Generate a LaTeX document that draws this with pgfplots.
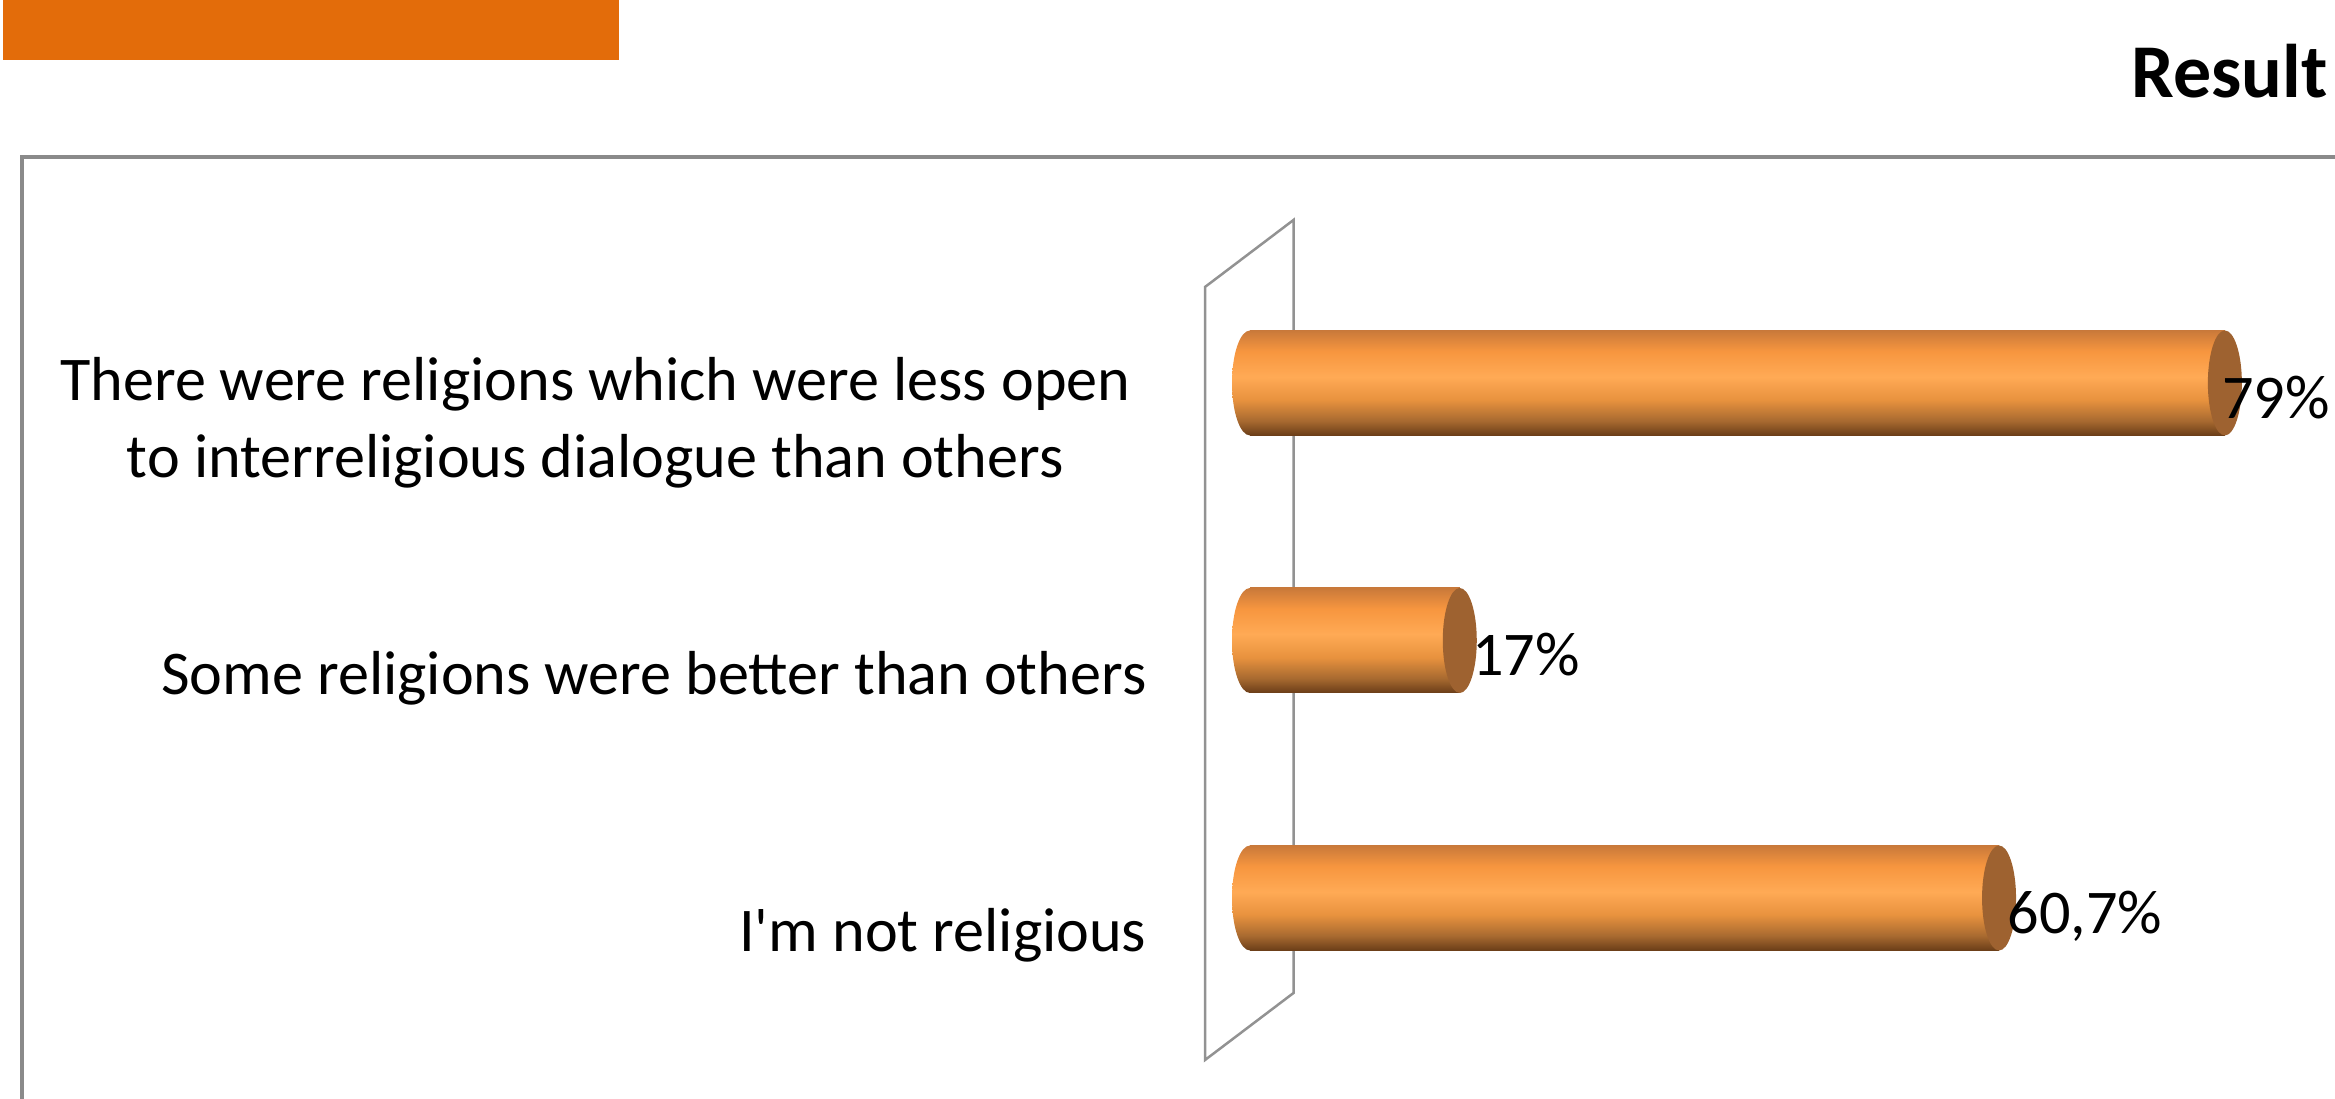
\documentclass[border=0pt]{standalone}
\usepackage{fontspec}
\setmainfont{Carlito}[Ligatures=TeXOff]
\usepackage{pgfplots}
\pgfplotsset{compat=1.18}
\definecolor{hdr}{HTML}{E36C0A}
\definecolor{frm}{HTML}{8A8A8A}
\definecolor{wallc}{HTML}{929292}
\definecolor{capc}{HTML}{9E6230}
\definecolor{cb}{HTML}{6A3D18}
\definecolor{cb2}{HTML}{A86A30}
\definecolor{cm1}{HTML}{E8923E}
\definecolor{cm}{HTML}{FFAA55}
\definecolor{ct2}{HTML}{F7963F}
\definecolor{ct}{HTML}{C9793A}
\pgfdeclareverticalshading{cyl}{100bp}{color(0bp)=(cb); color(25bp)=(cb); color(32bp)=(cb2); color(42bp)=(cm1); color(53bp)=(cm); color(65bp)=(ct2); color(75bp)=(ct); color(100bp)=(ct)}
\pgfdeclareplotmark{lcap}{\path[draw=none, shading=cyl] (0pt,0pt) ellipse [x radius=5.4bp, y radius=15.75bp];}
\pgfdeclareplotmark{rcap}{\path[draw=none, fill=capc] (0pt,0pt) ellipse [x radius=5.1bp, y radius=15.75bp];}
\begin{document}
\begin{tikzpicture}[x=0.3bp,y=0.3bp]
\useasboundingbox (0,0) rectangle (2335,1099);
\clip (0,0) rectangle (2335,1099);
\fill[hdr] (3,1039) rectangle (619,1100);
\node[anchor=base east, inner sep=0pt, font=\bfseries\fontsize{22.8bp}{27bp}\selectfont] at (2328,1001) {Result};
\draw[frm, line width=1.2bp] (22,-20) -- (22,942) -- (2400,942);
\draw[wallc, line width=0.75bp] (1205,39) -- (1205,812) -- (1293.5,879) -- (1293.5,106) -- cycle;
\coordinate (O) at (1250,72.25);
\begin{axis}[
  at={(O)}, anchor=south west,
  x=3.702bp, y=77.25bp,
  xmin=0, xmax=90, ymin=-0.5, ymax=2.5,
  scale only axis, clip=false,
  axis line style={draw=none},
  major tick length=0pt,
  xtick=\empty,
  ytick={0,1},
  yticklabels={I'm not religious, Some religions were better than others},
  yticklabel style={anchor=base east, inner sep=0pt, xshift=-30.9bp, yshift=-16.2bp, font=\fontsize{18.65bp}{23.2bp}\selectfont},
  extra y ticks={2},
  extra y tick labels={{There were religions which were less open\\to interreligious dialogue than others}},
  extra y tick style={yticklabel style={align=center, xshift=-4.8bp, yshift=-12.25bp}},
  every node near coord/.style={anchor=base west, inner sep=0pt, yshift=-10.6bp, font=\fontsize{18.65bp}{23.2bp}\selectfont, text=black},
]
% left rounded ends
\addplot[only marks, mark=lcap, mark options={draw=none}, forget plot] coordinates {(0,2) (0,1) (0,0)};
% bar bodies
\addplot[xbar, bar width=31.5bp, bar shift=0pt, draw=none, shading=cyl, forget plot] coordinates {(79,2)};
\addplot[xbar, bar width=31.5bp, bar shift=0pt, draw=none, shading=cyl, forget plot] coordinates {(17,1)};
\addplot[xbar, bar width=31.5bp, bar shift=0pt, draw=none, shading=cyl, forget plot] coordinates {(60.7,0)};
% right end caps
\addplot[only marks, mark=rcap, mark options={draw=none}, forget plot] coordinates {(79,2) (17,1) (60.7,0)};
% value labels
\addplot[draw=none, mark=none, forget plot, point meta=explicit symbolic, nodes near coords, nodes near coords style={xshift=-1bp}] coordinates {(79,2) [79\%]};
\addplot[draw=none, mark=none, forget plot, point meta=explicit symbolic, nodes near coords, nodes near coords style={xshift=3.6bp}] coordinates {(17,1) [17\%]};
\addplot[draw=none, mark=none, forget plot, point meta=explicit symbolic, nodes near coords, nodes near coords style={xshift=2.4bp}] coordinates {(60.7,0) [60,7\%]};
\end{axis}
\end{tikzpicture}
\end{document}
